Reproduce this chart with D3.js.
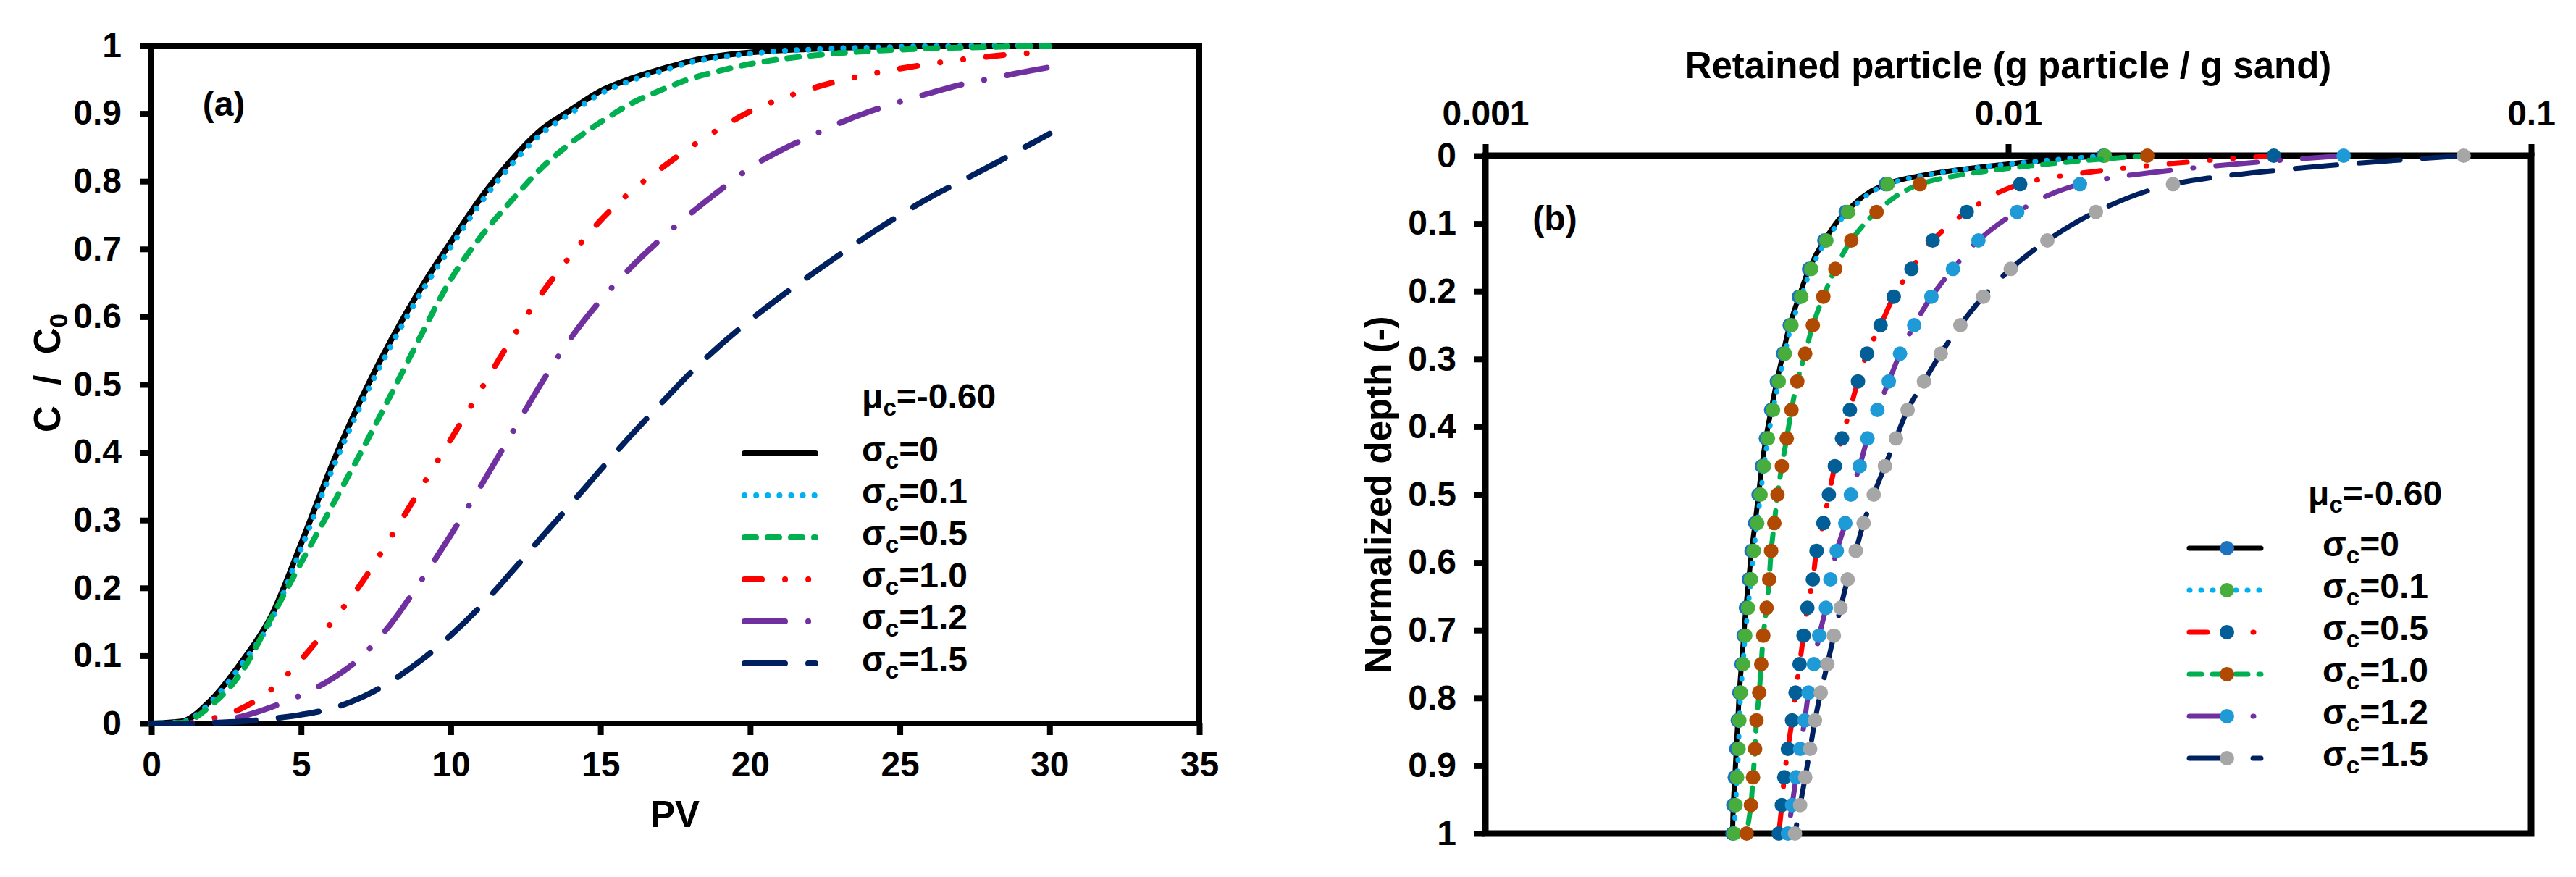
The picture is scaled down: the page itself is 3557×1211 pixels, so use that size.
<!DOCTYPE html>
<html>
<head>
<meta charset="utf-8">
<script src="https://cdn.jsdelivr.net/npm/d3@7"></script>
<style>
  html, body { margin: 0; padding: 0; background: #fff; }
  svg { display: block; font-family: "Liberation Sans", Arial, sans-serif; font-weight: bold; }
</style>
</head>
<body>
<svg id="fig" width="3557" height="1211"></svg>
<script>
// ── Data: (a) breakthrough curves, C/C0 vs PV ─────────────────────────────────
const pvValues = [0, 1, 2, 3, 4, 5, 6, 7, 8, 9, 10, 11, 12, 13, 14, 15, 16, 17, 18, 19, 20,
  21, 22, 23, 24, 25, 26, 27, 28, 29, 30];
const conc_s00 = [0, 0.003, 0.035, 0.09, 0.158, 0.265, 0.378, 0.478, 0.565, 0.642, 0.71, 0.775, 0.83,
  0.875, 0.905, 0.933, 0.951, 0.965, 0.977, 0.985, 0.99, 0.993, 0.995, 0.997, 0.998, 0.999, 0.999, 1, 1, 1, 1];
const conc_s01 = [0, 0.002, 0.032, 0.086, 0.152, 0.258, 0.37, 0.47, 0.557, 0.635, 0.703, 0.768, 0.823,
  0.869, 0.9, 0.929, 0.948, 0.962, 0.975, 0.983, 0.988, 0.992, 0.994, 0.996, 0.997, 0.998, 0.999, 0.999, 1, 1, 1];
const conc_s05 = [0, 0.001, 0.027, 0.075, 0.155, 0.237, 0.318, 0.4, 0.485, 0.572, 0.655, 0.718, 0.77,
  0.818, 0.856, 0.887, 0.914, 0.934, 0.951, 0.963, 0.973, 0.98, 0.985, 0.989, 0.992, 0.994, 0.996, 0.997, 0.998, 0.999, 0.999];
const conc_s10 = [0, 0, 0.007, 0.022, 0.05, 0.094, 0.148, 0.206, 0.275, 0.347, 0.419, 0.492, 0.565,
  0.632, 0.69, 0.742, 0.784, 0.818, 0.85, 0.878, 0.903, 0.921, 0.936, 0.948, 0.958, 0.966, 0.973, 0.979, 0.984, 0.988, 0.99];
const conc_s12 = [0, 0, 0.002, 0.01, 0.024, 0.042, 0.065, 0.098, 0.147, 0.21, 0.278, 0.35, 0.425,
  0.5, 0.568, 0.624, 0.672, 0.714, 0.752, 0.787, 0.82, 0.845, 0.866, 0.886, 0.903, 0.917, 0.93, 0.942, 0.951, 0.96, 0.968];
const conc_s15 = [0, 0, 0.001, 0.003, 0.007, 0.013, 0.022, 0.038, 0.062, 0.093, 0.13, 0.173, 0.222,
  0.273, 0.323, 0.374, 0.424, 0.471, 0.517, 0.558, 0.595, 0.629, 0.661, 0.692, 0.722, 0.75, 0.776, 0.799, 0.822, 0.846, 0.87];

// ── Data: (b) retained particle profiles vs normalized depth ──────────────────
const depthValues = [0, 0.042, 0.083, 0.125, 0.167, 0.208, 0.25, 0.292, 0.333, 0.375, 0.417, 0.458, 0.5,
  0.542, 0.583, 0.625, 0.667, 0.708, 0.75, 0.792, 0.833, 0.875, 0.917, 0.958, 1];
const retained_s00 = [0.0152, 0.00583, 0.00489, 0.00445, 0.00416, 0.00398, 0.00382, 0.00371, 0.00361, 0.00352,
  0.00344, 0.00338, 0.00333, 0.00328, 0.00323, 0.00319, 0.00315, 0.00312, 0.00309, 0.00306, 0.00304, 0.00302, 0.003, 0.00298, 0.00297];
const retained_s01 = [0.0153, 0.00588, 0.00494, 0.00449, 0.0042, 0.00402, 0.00385, 0.00374, 0.00364, 0.00355,
  0.00347, 0.00341, 0.00336, 0.00331, 0.00326, 0.00322, 0.00318, 0.00314, 0.00311, 0.00308, 0.00306, 0.00305, 0.00303, 0.00301, 0.00299];
const retained_s05 = [0.0322, 0.01054, 0.00833, 0.00717, 0.00653, 0.00604, 0.0057, 0.00537, 0.00516, 0.00498,
  0.00481, 0.00466, 0.00454, 0.00443, 0.0043, 0.00423, 0.00413, 0.00406, 0.00399, 0.00392, 0.00386, 0.00379, 0.00373, 0.00369, 0.00364];
const retained_s10 = [0.01845, 0.00678, 0.0056, 0.00501, 0.00467, 0.00443, 0.00423, 0.00409, 0.00395, 0.00385,
  0.00377, 0.00369, 0.00362, 0.00357, 0.00352, 0.00349, 0.00345, 0.0034, 0.00337, 0.00334, 0.0033, 0.00328, 0.00325, 0.00322, 0.00316];
const retained_s12 = [0.0438, 0.01371, 0.0104, 0.00877, 0.00784, 0.00713, 0.00661, 0.00621, 0.00591, 0.00562,
  0.00538, 0.0052, 0.005, 0.00488, 0.0047, 0.00457, 0.00448, 0.00435, 0.00425, 0.00415, 0.00408, 0.004, 0.00393, 0.00386, 0.00379];
const retained_s15 = [0.0743, 0.02066, 0.01471, 0.01188, 0.01011, 0.00896, 0.0081, 0.00743, 0.0069, 0.00642,
  0.0061, 0.00581, 0.00553, 0.00529, 0.00511, 0.00493, 0.00478, 0.00464, 0.00451, 0.00438, 0.00427, 0.00418, 0.00409, 0.004, 0.00391];

// ── Labels and ticks ──────────────────────────────────────────────────────────
const sigmaLabels = ['0', '0.1', '0.5', '1.0', '1.2', '1.5'];
const muLabel = '-0.60';
const pvTicks = [0, 5, 10, 15, 20, 25, 30, 35];
const fracTicks = [0, 0.1, 0.2, 0.3, 0.4, 0.5, 0.6, 0.7, 0.8, 0.9, 1];
const fracTickLabels = ['0', '0.1', '0.2', '0.3', '0.4', '0.5', '0.6', '0.7', '0.8', '0.9', '1'];
const logTicks = [0.001, 0.01, 0.1];
const logTickLabels = ['0.001', '0.01', '0.1'];

const concSeries = [conc_s00, conc_s01, conc_s05, conc_s10, conc_s12, conc_s15];
const retainedSeries = [retained_s00, retained_s01, retained_s05, retained_s10, retained_s12, retained_s15];

// visible dash patterns (px), turned into round-cap dasharrays below
const DOT = [8, 8], DASH = [24, 8], DASH_DOT_DOT = [32, 24, 8, 24, 8, 24],
      LONG_DASH_DOT = [64, 24, 8, 24], LONG_DASH = [64, 24];

const leftStyles = [
  { color: '#000000', dash: null },
  { color: '#00B0F0', dash: DOT },
  { color: '#00B050', dash: DASH },
  { color: '#FF0000', dash: DASH_DOT_DOT },
  { color: '#7030A0', dash: LONG_DASH_DOT },
  { color: '#002060', dash: LONG_DASH },
];
const rightStyles = [
  { color: '#000000', dash: null,          marker: '#1E73BE' },
  { color: '#00B0F0', dash: DOT,           marker: '#47AE3E' },
  { color: '#FF0000', dash: DASH_DOT_DOT,  marker: '#015E96' },
  { color: '#00B050', dash: DASH,          marker: '#B04A02' },
  { color: '#7030A0', dash: LONG_DASH_DOT, marker: '#1E9BD7' },
  { color: '#002060', dash: LONG_DASH,     marker: '#A6A6A6' },
];

function dashArray(pattern, w) {
  if (!pattern) return null;
  return pattern.map((v, i) => i % 2 === 0 ? Math.max(v - w, 0.1) : v + w).join(',');
}

const svg = d3.select('#fig');
svg.append('rect').attr('width', 3557).attr('height', 1211).attr('fill', '#fff');

function styleAxis(g) {
  g.attr('font-family', null).attr('font-size', 48);
  g.select('.domain').remove();
  g.selectAll('.tick line').attr('stroke', '#000').attr('stroke-width', 8);
  g.selectAll('.tick text').attr('fill', '#000').attr('font-weight', 'bold');
}

function subText(sel, x, y, main, sub, rest, size, subSize) {
  const t = sel.append('text').attr('x', x).attr('y', y).attr('font-size', size).attr('fill', '#000');
  t.append('tspan').text(main);
  t.append('tspan').attr('font-size', subSize).attr('dy', 10).text(sub);
  if (rest) t.append('tspan').attr('dy', -10).text(rest);
  return t;
}

// ── Panel (a) ─────────────────────────────────────────────────────────────────
const xA = d3.scaleLinear().domain([0, 35]).range([209, 1656]);
const yA = d3.scaleLinear().domain([0, 1]).range([999, 63]);

svg.append('g').attr('transform', 'translate(0,999)')
  .call(d3.axisBottom(xA).tickValues(pvTicks).tickSize(16).tickSizeOuter(0).tickPadding(23))
  .call(styleAxis);
svg.append('g').attr('transform', 'translate(209,0)')
  .call(d3.axisLeft(yA).tickValues(fracTicks).tickFormat((d, i) => fracTickLabels[i])
    .tickSize(16).tickSizeOuter(0).tickPadding(25))
  .call(styleAxis);

svg.append('rect')
  .attr('x', xA(0)).attr('y', yA(1))
  .attr('width', xA(35) - xA(0)).attr('height', yA(0) - yA(1))
  .attr('fill', 'none').attr('stroke', '#000').attr('stroke-width', 8);

const lineA = d3.line().x((d, i) => xA(pvValues[i])).y(d => yA(d)).curve(d3.curveMonotoneX);
concSeries.forEach((vals, k) => {
  svg.append('path')
    .attr('d', lineA(vals))
    .attr('fill', 'none')
    .attr('stroke', leftStyles[k].color)
    .attr('stroke-width', 8)
    .attr('stroke-linecap', 'round')
    .attr('stroke-linejoin', 'round')
    .attr('stroke-dasharray', dashArray(leftStyles[k].dash, 8));
});

svg.append('text').attr('x', 932).attr('y', 1142).attr('text-anchor', 'middle')
  .attr('font-size', 51).text('PV');
const yTitleA = svg.append('text').attr('transform', 'translate(83,515) rotate(-90)')
  .attr('text-anchor', 'middle').attr('font-size', 51).style('white-space', 'pre');
yTitleA.append('tspan').text('C  /  C');
yTitleA.append('tspan').attr('font-size', 35).attr('dy', 10).text('0');

svg.append('text').attr('x', 309).attr('y', 160).attr('text-anchor', 'middle')
  .attr('font-size', 48).text('(a)');

// legend (a)
subText(svg, 1190, 564, 'μ', 'c', '=' + muLabel, 48, 33);
sigmaLabels.forEach((lab, k) => {
  const ly = 626 + k * 58;
  svg.append('line')
    .attr('x1', 1028).attr('x2', 1126).attr('y1', ly).attr('y2', ly)
    .attr('stroke', leftStyles[k].color).attr('stroke-width', 8)
    .attr('stroke-linecap', 'round')
    .attr('stroke-dasharray', dashArray(leftStyles[k].dash, 8));
  subText(svg, 1190, ly + 11, 'σ', 'c', '=' + lab, 48, 33);
});

// ── Panel (b) ─────────────────────────────────────────────────────────────────
const xB = d3.scaleLog().domain([0.001, 0.1]).range([2051, 3495]);
const yB = d3.scaleLinear().domain([0, 1]).range([215, 1151]);

svg.append('g').attr('transform', 'translate(0,215)')
  .call(d3.axisTop(xB).tickValues(logTicks).tickFormat((d, i) => logTickLabels[i])
    .tickSize(16).tickSizeOuter(0).tickPadding(26))
  .call(styleAxis);
svg.append('g').attr('transform', 'translate(2051,0)')
  .call(d3.axisLeft(yB).tickValues(fracTicks).tickFormat((d, i) => fracTickLabels[i])
    .tickSize(16).tickSizeOuter(0).tickPadding(24))
  .call(styleAxis);

svg.append('rect')
  .attr('x', xB(0.001)).attr('y', yB(0))
  .attr('width', xB(0.1) - xB(0.001)).attr('height', yB(1) - yB(0))
  .attr('fill', 'none').attr('stroke', '#000').attr('stroke-width', 9);

const lineB = d3.line().x(d => xB(d)).y((d, i) => yB(depthValues[i])).curve(d3.curveCatmullRom.alpha(0.5));
retainedSeries.forEach((vals, k) => {
  const st = rightStyles[k];
  svg.append('path')
    .attr('d', lineB(vals))
    .attr('fill', 'none')
    .attr('stroke', st.color)
    .attr('stroke-width', 7)
    .attr('stroke-linecap', 'round')
    .attr('stroke-linejoin', 'round')
    .attr('stroke-dasharray', dashArray(st.dash, 7));
  svg.append('g').selectAll('circle').data(vals).join('circle')
    .attr('cx', d => xB(d))
    .attr('cy', (d, i) => yB(depthValues[i]))
    .attr('r', 10)
    .attr('fill', st.marker);
});

svg.append('text').attr('x', 2773).attr('y', 108).attr('text-anchor', 'middle')
  .attr('font-size', 51).text('Retained particle (g particle / g sand)');
svg.append('text').attr('transform', 'translate(1921,683) rotate(-90)')
  .attr('text-anchor', 'middle').attr('font-size', 51).text('Normalized depth (-)');

svg.append('text').attr('x', 2147).attr('y', 318).attr('text-anchor', 'middle')
  .attr('font-size', 48).text('(b)');

// legend (b)
subText(svg, 3187, 698, 'μ', 'c', '=' + muLabel, 48, 33);
sigmaLabels.forEach((lab, k) => {
  const st = rightStyles[k];
  const ly = 757 + k * 58;
  svg.append('line')
    .attr('x1', 3023).attr('x2', 3122).attr('y1', ly).attr('y2', ly)
    .attr('stroke', st.color).attr('stroke-width', 7)
    .attr('stroke-linecap', 'round')
    .attr('stroke-dasharray', dashArray(st.dash, 7));
  svg.append('circle').attr('cx', 3075).attr('cy', ly).attr('r', 10).attr('fill', st.marker);
  subText(svg, 3207, ly + 11, 'σ', 'c', '=' + lab, 48, 33);
});
</script>
</body>
</html>
